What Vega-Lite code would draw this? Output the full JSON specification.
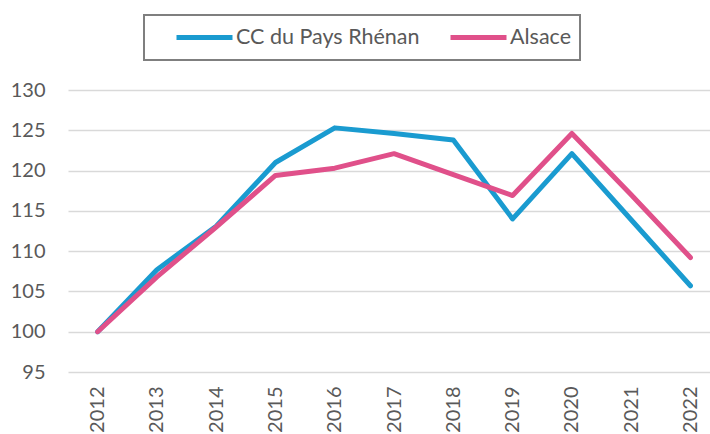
{
  "$schema": "https://vega.github.io/schema/vega-lite/v6.json",
  "autosize": {"type": "none"},
  "padding": {"left": 68, "top": 90, "right": 0, "bottom": 62},
  "width": 642,
  "height": 282,
  "background": "white",
  "config": {
    "view": {"stroke": null},
    "font": "Lato",
    "axis": {"labelFont": "Lato", "labelColor": "#595959", "labelFontSize": 20},
    "legend": {"labelFont": "Lato", "labelColor": "#595959", "labelFontSize": 21.5, "strokeWidth": 2}
  },
  "data": {
    "values": [
      {"year": 2012, "series": "CC du Pays Rhénan", "value": 100.0},
      {"year": 2013, "series": "CC du Pays Rhénan", "value": 107.7},
      {"year": 2014, "series": "CC du Pays Rhénan", "value": 113.1},
      {"year": 2015, "series": "CC du Pays Rhénan", "value": 121.0},
      {"year": 2016, "series": "CC du Pays Rhénan", "value": 125.3},
      {"year": 2017, "series": "CC du Pays Rhénan", "value": 124.6},
      {"year": 2018, "series": "CC du Pays Rhénan", "value": 123.8},
      {"year": 2019, "series": "CC du Pays Rhénan", "value": 114.0},
      {"year": 2020, "series": "CC du Pays Rhénan", "value": 122.1},
      {"year": 2021, "series": "CC du Pays Rhénan", "value": 113.9},
      {"year": 2022, "series": "CC du Pays Rhénan", "value": 105.7},
      {"year": 2012, "series": "Alsace", "value": 100.0},
      {"year": 2013, "series": "Alsace", "value": 106.8},
      {"year": 2014, "series": "Alsace", "value": 113.0},
      {"year": 2015, "series": "Alsace", "value": 119.4},
      {"year": 2016, "series": "Alsace", "value": 120.3},
      {"year": 2017, "series": "Alsace", "value": 122.1},
      {"year": 2018, "series": "Alsace", "value": 119.5},
      {"year": 2019, "series": "Alsace", "value": 116.9},
      {"year": 2020, "series": "Alsace", "value": 124.6},
      {"year": 2021, "series": "Alsace", "value": 117.0},
      {"year": 2022, "series": "Alsace", "value": 109.2}
    ]
  },
  "mark": {"type": "line", "strokeWidth": 5, "strokeCap": "round", "strokeJoin": "round"},
  "encoding": {
    "x": {
      "field": "year",
      "type": "quantitative",
      "scale": {"domain": [2011.5, 2022.33], "nice": false, "zero": false},
      "axis": {
        "title": null,
        "values": [2012, 2013, 2014, 2015, 2016, 2017, 2018, 2019, 2020, 2021, 2022],
        "format": "d",
        "labelAngle": -90,
        "labelPadding": 14,
        "ticks": false,
        "domain": false,
        "grid": false,
        "labelFlush": false,
        "labelOverlap": false
      }
    },
    "y": {
      "field": "value",
      "type": "quantitative",
      "scale": {"domain": [95, 130], "nice": false, "zero": false},
      "axis": {
        "title": null,
        "values": [95, 100, 105, 110, 115, 120, 125, 130],
        "ticks": false,
        "domain": false,
        "grid": true,
        "gridColor": "#d9d9d9",
        "gridWidth": 1.5,
        "labelPadding": 23
      }
    },
    "color": {
      "field": "series",
      "type": "nominal",
      "scale": {"domain": ["CC du Pays Rhénan", "Alsace"], "range": ["#1a9bd0", "#e0508a"]},
      "legend": {
        "title": null,
        "orient": "none",
        "direction": "horizontal",
        "legendX": 76,
        "legendY": -75,
        "symbolType": "stroke",
        "symbolSize": 3136,
        "symbolStrokeWidth": 5,
        "symbolOffset": 22,
        "clipHeight": 29,
        "labelOffset": 1,
        "columnPadding": 6,
        "padding": 8,
        "strokeColor": "#7f7f7f",
        "fillColor": "white",
        "cornerRadius": 0,
        "labelLimit": 400
      }
    }
  }
}
